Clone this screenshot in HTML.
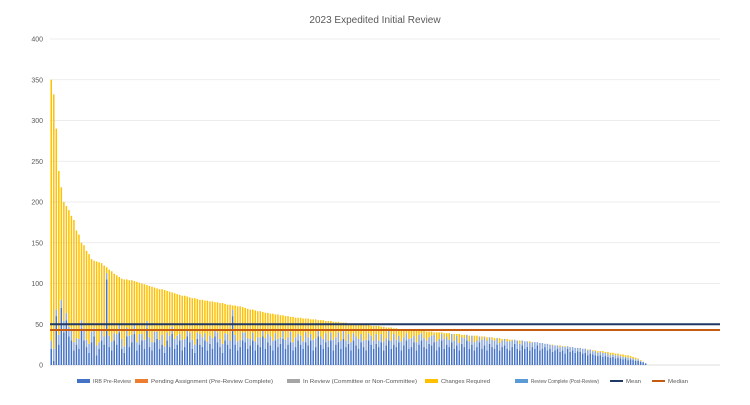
<!DOCTYPE html>
<html><head><meta charset="utf-8"><style>
body{margin:0;background:#fff;font-family:"Liberation Sans",sans-serif;}
svg text{font-family:"Liberation Sans",sans-serif;}
</style></head><body>
<svg id="chart" width="750" height="400" xmlns="http://www.w3.org/2000/svg">
<rect width="750" height="400" fill="#fff"/>
<text x="375" y="23" text-anchor="middle" font-size="10" fill="#595959">2023 Expedited Initial Review</text>
<g id="grid"></g><g id="bars"></g><g id="lines"></g><g id="legend"></g>
</svg>
<script>
const yTicks=[0,50,100,150,200,250,300,350,400];
const totals=[350,332,290,238,218,200,195,190,183,178,165,160,150,147,140,136,130,128,127,126,
125,122,120,117,115,112,110,108,106,105,105,104,104,103,102,101,100,99,98,97,
96,95,94,93,93,92,91,90,89,88,87,86,85,85,84,83,82,82,81,80,
80,79,79,78,78,77,77,76,76,75,74,74,73,73,72,72,71,70,69,68,
68,67,66,66,65,64,64,63,63,62,62,61,61,60,60,59,59,58,58,58,
57,57,57,56,56,56,55,55,55,54,54,54,53,53,53,52,52,52,51,51,
51,50,50,50,49,49,49,48,48,48,48,47,47,46,46,46,45,45,44,44,
44,44,43,43,43,42,42,42,42,41,41,41,40,40,40,40,39,39,39,38,
38,38,38,37,37,37,36,36,36,36,35,35,35,34,34,34,33,33,33,32,
32,32,31,31,31,30,30,30,29,29,29,28,28,28,27,27,26,26,25,25,
24,24,24,23,23,23,22,22,21,21,21,20,20,19,19,18,18,17,17,17,
16,16,15,15,14,14,13,13,12,12,11,10,9,8,6,4,2];
const preReview=[20,5,60,25,70,40,55,35,30,18,25,20,45,30,22,15,28,35,12,20,
30,25,105,22,18,30,25,40,20,15,35,22,28,38,18,25,30,20,45,22,
18,28,32,20,25,15,30,22,38,20,25,30,18,22,35,28,20,15,32,25,
22,30,18,26,20,35,28,22,15,30,25,20,60,25,18,22,30,28,20,24,
30,18,25,22,35,20,28,24,18,30,22,26,32,20,25,28,18,22,30,25,
20,28,24,30,18,22,35,25,20,28,22,30,18,25,28,20,32,22,26,18,
30,24,20,28,22,18,30,25,20,26,22,28,18,24,30,20,25,22,28,18,
24,30,20,22,28,18,25,30,22,20,26,24,28,18,22,30,20,25,22,28,
20,24,18,26,22,30,20,25,18,22,28,20,24,18,26,22,20,25,18,22,
24,20,18,22,26,20,18,24,20,22,18,22,20,24,18,20,22,18,20,16,
18,20,16,18,14,20,16,18,15,17,16,14,15,12,14,13,12,11,12,10,
11,10,9,10,8,9,8,7,8,6,7,6,5,5,4,3,2];
const reviewComplete=[10,15,8,12,10,14,9,12,15,10,8,12,10,14,9,11,13,10,12,8,
12,10,8,14,11,9,13,10,12,8,11,14,9,12,10,13,8,11,9,12,
10,13,9,11,12,8,10,14,9,12,11,8,13,10,9,12,11,10,8,13,
12,9,11,10,13,8,12,10,11,9,13,10,8,12,11,9,10,12,13,8,
10,11,9,12,8,13,10,11,12,9,10,8,12,11,9,13,10,12,8,11,
9,12,10,8,13,11,9,10,12,11,8,10,13,9,12,10,11,8,12,10,
9,11,12,10,8,13,9,11,10,12,8,10,11,9,12,10,13,9,8,11,
10,9,12,11,8,10,12,9,11,10,8,12,9,11,10,8,12,10,9,11,
10,12,9,8,11,10,9,12,10,8,9,11,10,12,8,9,10,11,9,8,
10,9,11,8,9,10,8,9,10,8,9,8,10,7,9,8,9,8,7,8,
7,8,6,7,8,6,7,6,7,6,5,6,5,6,5,4,5,4,4,5,
4,4,3,3,4,3,3,3,2,3,2,2,2,2,1,1,0];
const meanValue=50, medianValue=43;
const nCategories=266;
const X0=50,X1=720,Y0=365,Ytop=39;
const ys=v=>Y0-(v/400)*(Y0-Ytop);
const step=(X1-X0)/nCategories;
const xs=i=>X0+step*i+0.5;
const NS="http://www.w3.org/2000/svg";
function mk(tag,attrs,parent){const e=document.createElementNS(NS,tag);for(const k in attrs)e.setAttribute(k,attrs[k]);parent.appendChild(e);return e;}
const grid=document.getElementById('grid');
yTicks.forEach(t=>{
  const l=mk('line',{x1:X0,x2:X1,y1:ys(t),y2:ys(t),stroke:t===0?'#d0d0d0':'#e6e6e6','stroke-width':0.8},grid);
  
  
  const tx=mk('text',{x:43,y:ys(t)+2.5,'text-anchor':'end','font-size':7,fill:'#595959'},grid);
  tx.textContent=t;
  
  
});
const bars=document.getElementById('bars');
totals.forEach((tot,i)=>{
  const p=Math.min(preReview[i],tot);
  const c=Math.min(reviewComplete[i],tot-p);
  const x=xs(i),w=1.5;
  const r1=mk('rect',{x:x,width:w,y:ys(p),height:Y0-ys(p),fill:'#4472c4'},bars);
  
  
  const r2=mk('rect',{x:x,width:w,y:ys(p+c),height:ys(p)-ys(p+c),fill:'#8eaadb'},bars);
  
  
  const r3=mk('rect',{x:x,width:w,y:ys(tot),height:ys(p+c)-ys(tot),fill:'#ffc000'},bars);
  
  
});
const lines=document.getElementById('lines');
const ml=mk('line',{x1:X0,x2:X1,y1:ys(meanValue),y2:ys(meanValue),stroke:'#203864','stroke-width':2},lines);


const md=mk('line',{x1:X0,x2:X1,y1:ys(medianValue),y2:ys(medianValue),stroke:'#c55a11','stroke-width':2},lines);


const legendItems=[['IRB Pre-Review','#4472c4',77,4,38],['Pending Assignment (Pre-Review Complete)','#ed7d31',135,4,122],['In Review (Committee or Non-Committee)','#a5a5a5',287,4,114],['Changes Required','#ffc000',425,4,49],['Review Complete (Post-Review)','#5b9bd5',515,4,68],['Mean','#203864',610,2,15],['Median','#c55a11',652,2,20]];
const lg=document.getElementById('legend');
legendItems.forEach(it=>{
  const g=mk('g',{},lg);
  
  
  mk('rect',{x:it[2],y:381-it[3]/2,width:13,height:it[3],fill:it[1]},g);
  const t=mk('text',{x:it[2]+16,y:383,'font-size':5.8,fill:'#595959',textLength:it[4],lengthAdjust:'spacingAndGlyphs'},g);
  t.textContent=it[0];
});
</script>
</body></html>
